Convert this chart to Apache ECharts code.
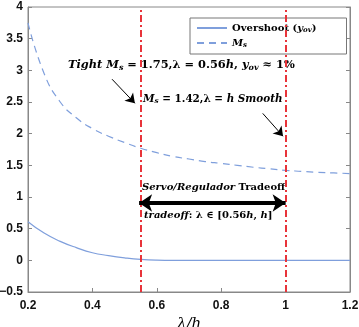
<!DOCTYPE html>
<html>
<head>
<meta charset="utf-8">
<script src="https://cdn.jsdelivr.net/npm/echarts@6/dist/echarts.min.js"></script>
<style>
  html, body { margin: 0; padding: 0; background: #fff; }
  #chart { width: 359px; height: 327px; }
</style>
</head>
<body>
<div id="chart"></div>
<script>
// lambda/h 取样点
const lambdaH = [0.2, 0.25, 0.3, 0.35, 0.4, 0.45, 0.5, 0.55, 0.6, 0.65, 0.7, 0.75, 0.8, 0.85, 0.9, 0.95, 1.0, 1.05, 1.1, 1.15, 1.2];
const overshoot = [0.61, 0.43, 0.30, 0.20, 0.12, 0.075, 0.04, 0.015, 0.003, 0, 0, 0, 0, 0, 0, 0, 0, 0, 0, 0, 0];
const msValues = [3.75, 2.95, 2.50, 2.25, 2.08, 1.96, 1.86, 1.77, 1.70, 1.64, 1.60, 1.56, 1.53, 1.50, 1.47, 1.445, 1.42, 1.405, 1.39, 1.38, 1.37];
const vLines = [0.545, 1.0];
const xTickValues = [0.2, 0.4, 0.6, 0.8, 1.0, 1.2];
const yTickValues = [-0.5, 0, 0.5, 1, 1.5, 2, 2.5, 3, 3.5, 4];

const serif = 'DejaVu Serif';
const blue = '#7f9fdc';
const red = '#e8343a';

const pairs = (ys) => lambdaH.map((x, i) => [x, ys[i]]);

// 富文本样式, 按字号生成
function richFor(size) {
  return {
    it: { fontFamily: serif, fontStyle: 'italic', fontWeight: 'bold', fontSize: size, color: '#000' },
    rm: { fontFamily: serif, fontWeight: 'bold', fontSize: size, color: '#000' },
    sub: { fontFamily: serif, fontStyle: 'italic', fontWeight: 'bold', fontSize: size * 0.7, color: '#000', padding: [size * 0.5, 0, 0, 0] }
  };
}

const fmtTick = (v) => {
  const r = Math.round(v * 10) / 10;
  return r < 0 ? '\u2212' + Math.abs(r) : String(r);
};

const labelFont = { formatter: fmtTick, fontFamily: 'Liberation Sans', fontWeight: 'bold', fontSize: 12, lineHeight: 11, color: '#111', hideOverlap: false };
const tickStyle = { show: true, inside: true, length: 4, lineStyle: { color: '#888' } };
const lineStyleAx = { show: true, onZero: false, lineStyle: { color: '#888' } };

const option = {
  animation: false,
  grid: {
    left: 28, right: 9, top: 7, bottom: 35,
    outerBoundsMode: 'none', containLabel: false,
    show: true, borderColor: '#888', borderWidth: 1
  },
  legend: {
    orient: 'vertical',
    left: 190,
    top: 18,
    itemWidth: 30,
    itemHeight: 10,
    itemGap: 4,
    padding: [5, 30, 5, 6],
    borderColor: '#777',
    borderWidth: 1,
    backgroundColor: '#fff',
    data: ['overshoot', 'ms'],
    itemStyle: { opacity: 0 },
    formatter: (name) => name === 'overshoot'
      ? '{rm|Overshoot (}{it|y}{sub|ov}{rm|)}'
      : '{it|M}{sub|s}',
    textStyle: { rich: richFor(10) }
  },
  xAxis: {
    type: 'value',
    min: xTickValues[0], max: xTickValues[xTickValues.length - 1],
    name: '\u03bb/h',
    nameLocation: 'middle',
    nameGap: 24,
    nameTextStyle: { fontFamily: serif, fontStyle: 'italic', fontSize: 15, color: '#000' },
    axisLine: lineStyleAx,
    axisTick: Object.assign({ customValues: xTickValues }, tickStyle),
    axisLabel: Object.assign({ margin: 8, customValues: xTickValues }, labelFont),
    splitLine: { show: false }
  },
  yAxis: [{
    type: 'value',
    min: yTickValues[0], max: yTickValues[yTickValues.length - 1],
    axisLine: lineStyleAx,
    axisTick: Object.assign({ customValues: yTickValues }, tickStyle),
    axisLabel: Object.assign({ margin: 5, customValues: yTickValues }, labelFont),
    splitLine: { show: false }
  }, {
    type: 'value', position: 'right',
    min: yTickValues[0], max: yTickValues[yTickValues.length - 1],
    axisLine: lineStyleAx,
    axisTick: Object.assign({ customValues: yTickValues }, tickStyle),
    axisLabel: { show: false },
    splitLine: { show: false }
  }],
  series: [{
    name: 'overshoot',
    type: 'line',
    data: pairs(overshoot),
    smooth: true,
    showSymbol: false,
    symbol: 'none',
    lineStyle: { color: blue, width: 1.2 },
    itemStyle: { color: blue },
    markLine: {
      silent: true,
      symbol: 'none',
      label: { show: false },
      lineStyle: { color: red, width: 2, type: [7, 3, 2, 3] },
      data: vLines.map((v) => ({ xAxis: v }))
    }
  }, {
    name: 'ms',
    type: 'line',
    data: pairs(msValues),
    smooth: true,
    showSymbol: false,
    symbol: 'none',
    lineStyle: { color: blue, width: 1.2, type: [7, 5] },
    itemStyle: { color: blue },
    markLine: {
      silent: true,
      label: { show: false },
      lineStyle: { color: '#000', width: 1, type: 'solid' },
      data: [
        [{ coord: [0.461, 2.86], symbol: 'none' }, { coord: [0.532, 2.48], symbol: 'arrow', symbolSize: 9 }],
        [{ coord: [0.929, 2.32], symbol: 'none' }, { coord: [0.992, 1.96], symbol: 'arrow', symbolSize: 9 }],
        [{ coord: [vLines[0], 0.905], symbol: 'arrow', symbolSize: 13, lineStyle: { width: 4 } },
         { coord: [vLines[1], 0.905], symbol: 'arrow', symbolSize: 13 }]
      ]
    }
  }],
  graphic: [
    { type: 'text', left: 68, top: 60, style: { text: '{it|Tight }{it|M}{sub|s}{rm| = 1.75,\u03bb = 0.56}{it|h}{rm|, }{it|y}{sub|ov}{rm| \u2248 1%}', rich: richFor(11.4) } },
    { type: 'text', left: 143, top: 94, style: { text: '{it|M}{sub|s}{rm| = 1.42,\u03bb = }{it|h Smooth}', rich: richFor(10.4) } },
    { type: 'text', left: 142, top: 182, style: { text: '{it|Servo/Regulador }{rm|Tradeoff}', rich: richFor(10) } },
    { type: 'text', left: 144, top: 210, style: { text: '{it|tradeoff}{rm|: \u03bb \u2208 [0.56}{it|h}{rm|, }{it|h}{rm|]}', rich: richFor(10) } }
  ]
};

const chart = echarts.init(document.getElementById('chart'));
chart.setOption(option);
</script>
</body>
</html>
